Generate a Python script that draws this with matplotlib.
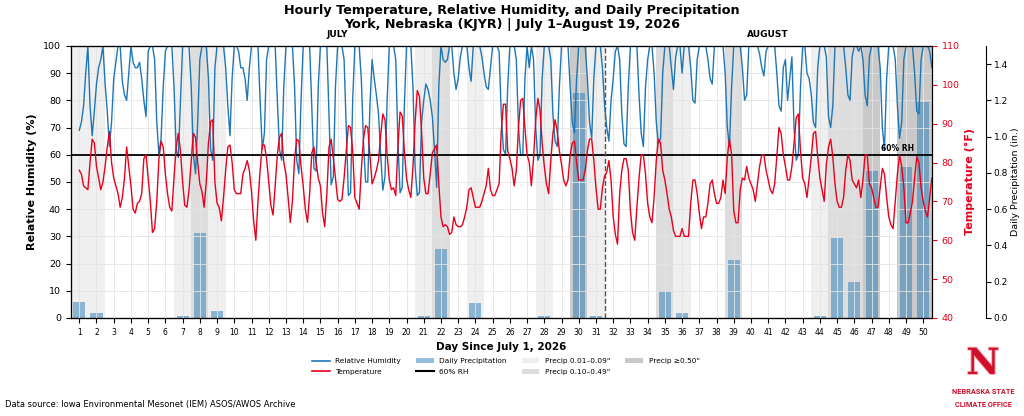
import numpy as np
import matplotlib
matplotlib.use("Agg")
import matplotlib.pyplot as plt
from matplotlib.patches import Patch
from matplotlib.lines import Line2D
import matplotlib.patheffects as pe

# ── data (3-hourly readings, 8 per day; day d covers x = d .. d+0.875) ──
temp_july = [
    78, 77, 74, 73.5, 73, 80, 86, 85,
    79, 76, 73, 75, 79, 84, 88, 80,
    76, 74, 72, 68.5, 71, 76, 84, 79,
    74, 68, 67, 69.5, 70, 72, 81, 82,
    76, 70, 62, 63, 70, 81, 85.5, 84,
    77, 72, 68.5, 67.5, 76, 84, 87.5, 83,
    75, 69, 68.5, 73, 80.5, 87.5, 86.5, 80,
    74.5, 72.5, 68.5, 75, 85, 90.5, 91, 75,
    69.5, 68.5, 65, 71, 78, 84, 84.5, 80,
    73, 72, 72, 72, 77, 78.5, 80.5, 78,
    72.5, 65, 60, 70, 78, 84.5, 84.5, 81,
    75, 69, 66.5, 74, 82, 86.5, 87.5, 80,
    77, 71, 64.6, 70, 81, 86, 85.5, 79,
    74, 68, 64.6, 72, 82.5, 84, 80, 76,
    74, 67, 63.5, 72, 84, 86, 81, 76,
    70.5, 70, 70.5, 76, 83, 89.5, 89, 83,
    71, 69.5, 68, 78, 86, 89.5, 89, 82,
    74.5, 76, 78, 80.5, 87, 92.5, 91, 82,
    75.5, 73, 73.5, 71.5, 84, 93, 92, 83,
    76, 73, 71, 79, 90.5, 98.5, 97, 88,
    76, 72, 72, 77, 82.5, 83.5, 84.5, 74.5,
    66, 63.5, 64, 63.5, 61.5, 62, 66, 64,
    63.5, 63.5, 64, 66, 68.5, 73, 73.5, 71,
    68.5, 68.5, 68.5, 70, 72, 74, 78.5, 73,
    71.5, 71.5, 73, 74.5, 88, 95, 95, 83,
    81, 78.5, 74, 78, 89, 96, 96.5, 89,
    82, 80, 74, 81, 91, 96.5, 93.5, 85,
    79, 74.5, 72, 80.5, 87.5, 91, 88, 83,
    79.5, 75.5, 74, 75.5, 82, 85, 85.5, 80,
    75.5, 75.5, 75.5, 78, 83, 86, 86, 80.5,
    73.5, 68, 68, 73.5, 76.5, 77.5, 80.5, 75.5,
]
temp_aug = [
    66, 61.5, 59, 72, 78, 81, 81, 78,
    67.5, 62, 60, 68.5, 76, 82, 82, 77,
    69.5, 66, 64.5, 71, 80.5, 86, 85, 78,
    75.5, 72, 68, 66, 62.5, 61, 61, 61,
    63, 61, 61, 61, 69.5, 75.5, 75.5, 72,
    67, 63, 66, 66, 69.5, 74.5, 75.5, 72,
    69.5, 69.5, 71, 75.5, 72, 81.5, 86, 82,
    67.5, 64.5, 64.5, 73, 76, 75.5, 79, 76,
    74.5, 73, 70, 74.5, 79, 82, 82, 78,
    75.5, 73, 72, 74.5, 81.5, 89, 87.5, 82,
    79, 75.5, 75.5, 79, 85, 91.5, 92.5, 83,
    76, 74.5, 71, 76, 81.5, 87.5, 88, 81.5,
    76, 73, 70, 79.5, 84, 86, 81.5, 74.5,
    70, 68.5, 68.5, 71, 78, 82, 80.5, 75.5,
    74.5, 73.5, 75.5, 71, 75.5, 82, 82, 74.5,
    73.5, 71, 68.5, 68.5, 73.5, 78.5, 77, 71,
    66, 64, 63, 70, 77, 82, 79, 73.5,
    64.5, 64.5, 67, 70, 76, 81.5, 80, 73.5,
    70, 67.5, 66, 71, 76,
]
rh_july = [
    69, 72, 78, 90, 100, 78, 67, 76,
    86, 92, 95, 100, 86, 76, 63, 72,
    88, 94, 100, 100, 87, 82, 80, 90,
    100, 94, 92, 92, 94, 88, 80, 74,
    98, 100, 100, 95, 72, 60, 66, 85,
    98, 100, 100, 100, 85, 62, 59, 80,
    100, 100, 100, 100, 85, 60, 53, 72,
    95, 100, 100, 100, 88, 62, 58, 92,
    100, 100, 100, 100, 92, 78, 67, 88,
    100, 100, 98, 92, 92, 88, 80, 92,
    100, 100, 100, 100, 80, 62, 68, 95,
    100, 100, 100, 100, 80, 62, 58, 85,
    100, 100, 100, 100, 85, 58, 53, 80,
    100, 100, 100, 100, 78, 55, 54, 85,
    100, 100, 100, 100, 75, 49, 52, 85,
    100, 100, 100, 95, 70, 45, 46, 80,
    100, 100, 100, 88, 65, 50, 50, 78,
    95, 88, 82, 75, 60, 47, 52, 80,
    100, 100, 100, 95, 65, 46, 48, 78,
    100, 100, 100, 85, 55, 45, 46, 72,
    80, 86, 84, 80, 74, 62, 48, 85,
    100, 95, 94, 95, 100, 100, 90, 84,
    88, 96, 100, 100, 100, 92, 87, 100,
    100, 100, 100, 96, 90, 85, 84, 92,
    100, 100, 100, 98, 75, 62, 60, 85,
    100, 100, 100, 95, 70, 60, 60, 88,
    100, 92, 100, 95, 70, 58, 60, 88,
    100, 100, 100, 95, 75, 65, 63, 85,
    100, 100, 100, 100, 85, 72, 68, 88,
    100, 100, 100, 100, 88, 72, 66, 88,
    100, 100, 100, 92, 78, 70, 65, 80,
]
rh_aug = [
    88, 98, 100, 95, 75, 64, 63, 85,
    100, 100, 100, 100, 82, 68, 63, 85,
    95, 100, 100, 90, 72, 64, 66, 90,
    100, 100, 100, 92, 84, 96, 100, 100,
    90, 100, 100, 100, 92, 80, 79, 95,
    100, 100, 100, 100, 95, 88, 86, 100,
    100, 100, 100, 100, 90, 70, 63, 85,
    100, 100, 100, 100, 92, 80, 82, 100,
    100, 100, 100, 100, 97, 92, 89, 98,
    100, 100, 100, 100, 90, 78, 76, 92,
    95, 80, 88, 96, 70, 58, 60, 85,
    100, 100, 90, 88, 82, 72, 70, 92,
    100, 100, 100, 96, 74, 70, 78, 100,
    100, 100, 100, 100, 92, 82, 80, 96,
    100, 100, 98, 100, 95, 82, 78, 96,
    100, 100, 100, 100, 92, 70, 62, 88,
    100, 100, 100, 95, 78, 66, 72, 95,
    100, 100, 100, 100, 90, 76, 75, 95,
    100, 100, 100, 98, 92,
]
days = list(range(1, 51))
precip = [
    0.09, 0.03, 0, 0, 0, 0, 0.01, 0.47, 0.04, 0,
    0, 0, 0, 0, 0, 0, 0, 0, 0, 0,
    0.01, 0.38, 0, 0.08, 0, 0, 0, 0.01, 0, 1.24,
    0.01, 0, 0, 0, 0.15, 0.03, 0, 0, 0.32, 0,
    0, 0, 0, 0.01, 0.44, 0.20, 0.81, 0, 0.83, 1.19,
]
month_labels = ["JULY", "AUGUST"]
month_centers = [16, 41]

temp = np.array(temp_july + temp_aug)
rh = np.array(rh_july + rh_aug)
t = 1 + np.arange(len(temp)) / 8.0

RED = "#e8001c"
NU_RED = "#d00f2a"
SHADE = {"light": "#efefef", "med": "#dddddd", "dark": "#c9c9c9"}

fig = plt.figure(figsize=(10.24, 4.16), dpi=100)
ax = fig.add_axes([0.069, 0.2356, 0.841, 0.654])
ax2 = ax.twinx()
ax3 = ax.twinx()
ax3.spines["right"].set_position(("outward", 39))
ax3.set_zorder(0)
ax.set_zorder(1)
ax2.set_zorder(2)
ax.patch.set_visible(False)
ax2.patch.set_visible(False)

# precipitation shading + bars (lowest layer)
for d, p in zip(days, precip):
    if p >= 0.5:
        c = SHADE["dark"]
    elif p >= 0.10:
        c = SHADE["med"]
    elif p >= 0.01:
        c = SHADE["light"]
    else:
        continue
    ax3.axvspan(d - 0.5, d + 0.5, color=c, lw=0, zorder=0)
ax3.bar(days, precip, width=0.7, color="#1f77b4", alpha=0.48, zorder=1)
ax3.set_ylim(0, 1.5)
ax3.set_yticks(np.arange(0, 1.41, 0.2))
ax3.set_yticklabels([f"{v:.1f}" for v in np.arange(0, 1.41, 0.2)], fontsize=6.5)
ax3.tick_params(axis="y", pad=2)
ax3.set_ylabel("Daily Precipitation (in.)", fontsize=6.8, labelpad=2)

# humidity
ax.plot(t, rh, color="#1f77b4", lw=1.0)
ax.axhline(60, color="black", lw=1.3)
ax.text(48.5, 60.8, "60% RH", fontsize=5.5, fontweight="bold", ha="center", va="bottom")
ax.axvline(31.5, color="#555555", ls="--", lw=1.0)
ax.set_xlim(0.5, 50.5)
ax.set_ylim(0, 100)
ax.set_xticks(days)
ax.set_xticklabels([str(d) for d in days], fontsize=5.5)
ax.set_yticks(range(0, 101, 10))
ax.tick_params(axis="y", labelsize=6.8)
ax.grid(True, color="#e4e4e4", lw=0.6)
ax.set_ylabel("Relative Humidity (%)", fontsize=8, fontweight="bold")
ax.set_xlabel("Day Since July 1, 2026", fontsize=7.5, fontweight="bold")
for lab, c in zip(month_labels, month_centers):
    ax.text(c, 102.5, lab, fontsize=6.5, fontweight="bold", ha="center", va="bottom")

# temperature
ax2.plot(t, temp, color=RED, lw=1.0)
ax2.set_ylim(40, 110)
ax2.set_yticks(range(40, 111, 10))
ax2.tick_params(axis="y", colors=RED, labelsize=6.8)
ax2.set_ylabel("Temperature (°F)", color=RED, fontsize=8, fontweight="bold")

fig.suptitle("Hourly Temperature, Relative Humidity, and Daily Precipitation\n"
             "York, Nebraska (KJYR) | July 1–August 19, 2026",
             fontsize=9.2, fontweight="bold", y=0.99, linespacing=1.1)

handles = [
    Line2D([], [], color="#1f77b4", lw=1.2),
    Line2D([], [], color=RED, lw=1.2),
    Patch(facecolor="#1f77b4", alpha=0.48),
    Line2D([], [], color="black", lw=1.5),
    Patch(facecolor=SHADE["light"]),
    Patch(facecolor=SHADE["med"]),
    Patch(facecolor=SHADE["dark"]),
]
labels = ["Relative Humidity", "Temperature", "Daily Precipitation", "60% RH",
          "Precip 0.01–0.09\"", "Precip 0.10–0.49\"", "Precip ≥0.50\""]
fig.legend(handles, labels, ncol=4, loc="upper center", bbox_to_anchor=(0.494, 0.155),
           frameon=False, fontsize=5.3, columnspacing=2.0, handlelength=2.4,
           labelspacing=0.6)

fig.text(0.005, 0.017, "Data source: Iowa Environmental Mesonet (IEM) ASOS/AWOS Archive",
         fontsize=6, ha="left", va="bottom")

# logo
fig.text(0.96, 0.125, "N", fontsize=26, fontweight="bold", family="DejaVu Serif",
         color=NU_RED, ha="center", va="center",
         path_effects=[pe.withStroke(linewidth=1.5, foreground="#f6b3ba")])
fig.text(0.96, 0.057, "NEBRASKA STATE", fontsize=5.3, fontweight="bold", family="Roboto",
         color=NU_RED, ha="center", va="center")
fig.text(0.96, 0.026, "CLIMATE OFFICE", fontsize=5.3, fontweight="bold", family="Roboto",
         color=NU_RED, ha="center", va="center")

fig.savefig("out.png", dpi=100)
